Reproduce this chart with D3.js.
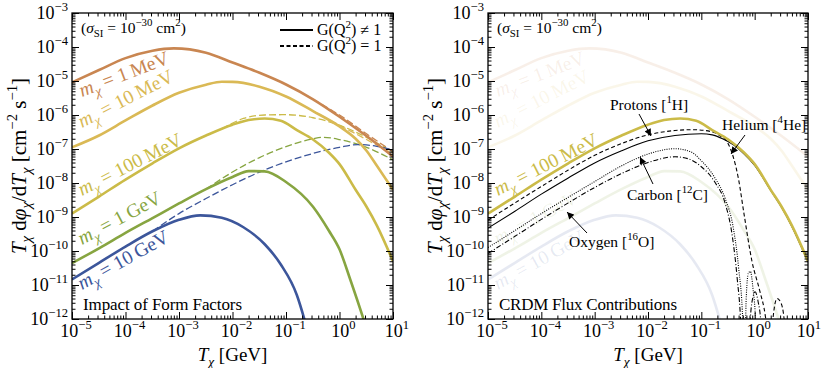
<!DOCTYPE html>
<html>
<head>
<meta charset="utf-8">
<script src="https://cdn.jsdelivr.net/npm/d3@7"></script>
<style>
body { margin: 0; background: #fff; }
text { font-family: "Liberation Serif", "DejaVu Serif", serif; white-space: pre; }
</style>
</head>
<body>
<svg id="chart" width="822" height="368"></svg>
<script>
// ---- values: [T_chi (GeV), T dphi/dT (cm^-2 s^-1)] ----
var massValues = ["1", "10", "100", "1", "10"];
var massUnits = ["MeV", "MeV", "MeV", "GeV", "GeV"];
var massColors = ["#c98651", "#dab955", "#cbbb48", "#87a541", "#3c569b"];

// with form factor, G(Q^2) != 1
var flux1MeV = [[1e-5,9.1e-6],[3.2e-5,2.1e-5],[1e-4,4.7e-5],[3.2e-4,7.8e-5],[8e-4,9.1e-5],[3.2e-3,6.8e-5],
  [1e-2,3.5e-5],[3.2e-2,1.74e-5],[0.1,7.9e-6],[0.32,2.9e-6],[1,8.9e-7],[3.2,2.4e-7],[10,6.0e-8]];
var flux10MeV = [[1e-5,1.12e-7],[3.2e-5,2.5e-7],[1e-4,6.9e-7],[3.2e-4,1.9e-6],[1e-3,4.5e-6],[3.2e-3,7.8e-6],
  [6.3e-3,9.5e-6],[1e-2,9.4e-6],[3.2e-2,6.8e-6],[0.1,3.5e-6],[0.32,1.3e-6],[1,4.6e-7],[2,2.0e-7],[3.2,8.9e-8],
  [5,3.2e-8],[10,6.3e-9]];
var flux100MeV = [[1e-5,1.26e-9],[3.2e-5,4.0e-9],[1e-4,1.26e-8],[3.2e-4,3.8e-8],[1e-3,1.05e-7],[3.2e-3,2.5e-7],
  [1e-2,5.2e-7],[2e-2,7.1e-7],[4e-2,7.9e-7],[8e-2,6.8e-7],[0.16,3.6e-7],[0.32,1.9e-7],[0.63,7.9e-8],[1,3.6e-8],
  [2,6.3e-9],[3.2,2.0e-9],[5,5.6e-10],[10,5.0e-11]];
var flux1GeV = [[1e-5,4.4e-11],[3.2e-5,1.2e-10],[1e-4,3.4e-10],[3.2e-4,9.3e-10],[1e-3,2.5e-9],[3.2e-3,6.6e-9],
  [1e-2,1.5e-8],[2e-2,2.24e-8],[4e-2,2.2e-8],[0.1,1.07e-8],[0.32,2.0e-9],[0.63,4.0e-10],[1,1.12e-10],
  [1.6,1.4e-11],[2.8,1.0e-12],[3.5,3.2e-13]];
var flux10GeV = [[1e-5,1.45e-11],[3.2e-5,4.5e-11],[1e-4,1.35e-10],[3.2e-4,3.8e-10],[1e-3,8.3e-10],[2.5e-3,1.12e-9],
  [6.3e-3,9.5e-10],[1.6e-2,5.0e-10],[4e-2,1.58e-10],[8e-2,4.0e-11],[0.16,5.0e-12],[0.22,1.0e-12],[0.28,2.5e-13]];

// without form factor, G(Q^2) = 1 (only where it leaves the solid curve)
var noFF1MeV = [[0.32,2.9e-6],[1,1.0e-6],[3.2,2.8e-7],[10,8.3e-8]];
var noFF10MeV = [[0.32,1.3e-6],[1,5.0e-7],[3.2,1.9e-7],[10,7.1e-8]];
var noFF100MeV = [[6.3e-3,3.9e-7],[1.6e-2,7.9e-7],[4e-2,1.0e-6],[0.1,1.02e-6],[0.32,8.3e-7],[1,5.0e-7],
  [3.2,2.2e-7],[10,7.9e-8]];
var noFF1GeV = [[3.2e-3,6.6e-9],[1e-2,2.1e-8],[3.2e-2,5.6e-8],[0.1,1.17e-7],[0.32,2.0e-7],[0.5,2.2e-7],
  [1,1.9e-7],[3.2,1.12e-7],[10,4.8e-8]];
var noFF10GeV = [[3.2e-4,3.8e-10],[1e-3,1.26e-9],[3.2e-3,3.5e-9],[1e-2,8.9e-9],[3.2e-2,2.1e-8],[0.1,4.2e-8],
  [0.32,7.4e-8],[1,1.12e-7],[2.2,1.35e-7],[5,1.2e-7],[10,9.3e-8]];

// CRDM contributions for m_chi = 100 MeV
var fluxProtons = [[1e-5,4.7e-10],[3.2e-5,1.48e-9],[1e-4,4.7e-9],[3.2e-4,1.41e-8],[1e-3,3.9e-8],[3.2e-3,8.9e-8],
  [1e-2,1.74e-7],[3.2e-2,2.5e-7],[0.1,2.8e-7],[0.16,2.6e-7],[0.25,2.0e-7],[0.4,1.32e-7],[0.63,7.2e-8],
  [1,3.3e-8],[2,6.0e-9],[3.2,1.9e-9],[5,5.2e-10],[10,4.7e-11]];
var fluxHelium = [[1e-5,8.1e-10],[3.2e-5,2.6e-9],[1e-4,7.9e-9],[3.2e-4,2.4e-8],[1e-3,6.5e-8],[3.2e-3,1.45e-7],
  [1e-2,2.6e-7],[3.2e-2,3.5e-7],[7e-2,3.7e-7],[0.16,3.2e-7],[0.22,2.5e-7],[0.32,1.41e-7],[0.4,5.6e-8],
  [0.5,1.26e-8],[0.63,1.26e-9],[0.89,5.0e-11],[1.26,6.3e-12],[1.58,1.26e-12],[1.78,2.5e-13],[1.9,1e-14],
  [2.14,6.3e-13],[2.63,4.0e-12],[3.16,2.8e-12],[3.7,5.0e-13],[4.0,1e-14]];
var fluxCarbon = [[1e-5,1.26e-10],[3.2e-5,4.0e-10],[1e-4,1.26e-9],[3.2e-4,3.8e-9],[1e-3,1.1e-8],[3.2e-3,3.2e-8],
  [1e-2,7.1e-8],[3.2e-2,1.02e-7],[6.3e-2,8.3e-8],[0.1,4.5e-8],[0.18,1.41e-8],[0.28,3.5e-9],[0.4,4.5e-10],
  [0.5,3.2e-11],[0.6,7.9e-13],[0.645,1e-14],[0.69,3.2e-12],[0.76,2.2e-11],[0.83,2.5e-11],[0.93,7.9e-12],
  [1.05,6.3e-13],[1.12,1e-14]];
var fluxOxygen = [[1e-5,8.5e-11],[3.2e-5,2.7e-10],[1e-4,8.5e-10],[3.2e-4,2.6e-9],[1e-3,7.4e-9],[3.2e-3,1.9e-8],
  [1e-2,4.0e-8],[3.2e-2,5.9e-8],[5.6e-2,5.2e-8],[0.1,3.0e-8],[0.18,1.05e-8],[0.28,2.5e-9],[0.38,2.8e-10],
  [0.47,1.58e-11],[0.55,6.3e-13],[0.6,1e-14],[0.76,1e-14],[0.83,1e-12],[0.93,4.5e-12],[1.02,6.3e-12],
  [1.15,3.5e-12],[1.32,6.3e-13],[1.41,1e-14]];

var xTickExps = [-5, -4, -3, -2, -1, 0, 1];
var yTickExps = [-12, -11, -10, -9, -8, -7, -6, -5, -4, -3];

var solidSeries = [flux1MeV, flux10MeV, flux100MeV, flux1GeV, flux10GeV];
var dashedSeries = [noFF1MeV, noFF10MeV, noFF100MeV, noFF1GeV, noFF10GeV];
// label anchor (offset from plot's left edge, baseline y) and slope angle
var labelPos = [[10, 97, 21], [10, 128, 27], [10, 196, 27], [10, 245, 28], [10, 290, 29]];

var svg = d3.select("#chart");
var plotTop = 13, plotBottom = 319;

// small helper: text with sub/superscripts built from tspans
function rich(sel, parts, fs) {
  var cur = 0;
  parts.forEach(function(p) {
    var off = p.s == "sub" ? fs * 0.25 : (p.s == "sup" ? -fs * 0.42 : 0);
    sel.append("tspan")
      .attr("dy", off - cur)
      .style("font-size", (p.s ? fs * 0.7 : fs) + "px")
      .style("font-style", p.i ? "italic" : "normal")
      .text(p.t);
    cur = off;
  });
  return sel;
}

function isMajor(v) {
  var l = Math.log10(v);
  return Math.abs(l - Math.round(l)) < 1e-6;
}

svg.append("defs").append("marker")
  .attr("id", "arrow")
  .attr("viewBox", "0 0 10 10")
  .attr("refX", 10).attr("refY", 5)
  .attr("markerWidth", 8).attr("markerHeight", 7)
  .attr("markerUnits", "userSpaceOnUse")
  .attr("orient", "auto")
  .append("path").attr("d", "M0,0 L10,5 L0,10 z").attr("fill", "#000");

function drawPanel(left, right, id) {
  var x = d3.scaleLog().domain([1e-5, 10]).range([left, right]);
  var y = d3.scaleLog().domain([1e-12, 1e-3]).range([plotBottom, plotTop]);
  var g = svg.append("g");

  g.append("clipPath").attr("id", "clip" + id)
    .append("rect").attr("x", left).attr("y", plotTop)
    .attr("width", right - left).attr("height", plotBottom - plotTop);

  var plot = g.append("g").attr("clip-path", "url(#clip" + id + ")");

  // ticks, inward on all four sides
  var xMajor = xTickExps.map(function(e) { return Math.pow(10, e); });
  var yMajor = yTickExps.map(function(e) { return Math.pow(10, e); });
  var xMinor = x.ticks().filter(function(v) { return !isMajor(v); });
  var yMinor = y.ticks().filter(function(v) { return !isMajor(v); });
  var sides = [
    [d3.axisBottom(x), "translate(0," + plotBottom + ")", xMajor, xMinor],
    [d3.axisTop(x), "translate(0," + plotTop + ")", xMajor, xMinor],
    [d3.axisLeft(y), "translate(" + left + ",0)", yMajor, yMinor],
    [d3.axisRight(y), "translate(" + right + ",0)", yMajor, yMinor]
  ];
  sides.forEach(function(s) {
    [[s[2], 7], [s[3], 3.5]].forEach(function(t) {
      g.append("g").attr("transform", s[1])
        .call(s[0].tickValues(t[0]).tickSize(-t[1]).tickFormat(""))
        .call(function(a) { a.select(".domain").remove(); a.selectAll("line").attr("stroke-width", 1); });
    });
  });

  g.append("rect").attr("x", left).attr("y", plotTop)
    .attr("width", right - left).attr("height", plotBottom - plotTop)
    .attr("fill", "none").attr("stroke", "#000").attr("stroke-width", 1.3);

  // tick labels
  xTickExps.forEach(function(e) {
    var t = rich(g.append("text").attr("x", x(Math.pow(10, e)) + 4).attr("y", 337).attr("text-anchor", "middle"),
      [{t: "10"}, {t: e < 0 ? "\u2212" + (-e) : "" + e, s: "sup"}], 18);
    // keep the last label inside the window
    var bb = t.node().getBBox();
    if (bb.x + bb.width > 821) t.attr("x", +t.attr("x") - (bb.x + bb.width - 821));
  });
  yTickExps.forEach(function(e) {
    rich(g.append("text").attr("x", left - 4).attr("y", y(Math.pow(10, e)) + 6).attr("text-anchor", "end"),
      [{t: "10"}, {t: "\u2212" + (-e), s: "sup"}], 18);
  });

  // axis titles
  rich(g.append("text").attr("x", (left + right) / 2).attr("y", 361).attr("text-anchor", "middle"),
    [{t: "T", i: 1}, {t: "\u03c7", s: "sub", i: 1}, {t: " [GeV]"}], 19);
  rich(g.append("text").attr("text-anchor", "middle")
      .attr("transform", "translate(" + (left - 46) + ",166) rotate(-90)"),
    [{t: "T", i: 1}, {t: "\u03c7", s: "sub", i: 1}, {t: " d"}, {t: "\u03c6", i: 1}, {t: "\u03c7", s: "sub", i: 1},
     {t: "/d"}, {t: "T", i: 1}, {t: "\u03c7", s: "sub", i: 1}, {t: " [cm"}, {t: "\u22122", s: "sup"},
     {t: " s"}, {t: "\u22121", s: "sup"}, {t: "]"}], 21);

  rich(g.append("text").attr("x", left + 9).attr("y", 33),
    [{t: "("}, {t: "\u03c3", i: 1}, {t: "SI", s: "sub"}, {t: " = 10"}, {t: "\u221230", s: "sup"},
     {t: " cm"}, {t: "2", s: "sup"}, {t: ")"}], 15.5);

  return {x: x, y: y, g: g, plot: plot, left: left, right: right};
}

function massLabel(p, i, opacity) {
  var lp = labelPos[i];
  rich(p.g.append("text")
      .attr("transform", "translate(" + (p.left + lp[0]) + "," + lp[1] + ") rotate(" + (-lp[2]) + ")")
      .attr("fill", massColors[i]).attr("fill-opacity", opacity),
    [{t: "m", i: 1}, {t: "\u03c7", s: "sub", i: 1}, {t: " = " + massValues[i] + "\u2009" + massUnits[i]}], 19.5);
}

// ---------------- left panel: impact of form factors ----------------
var L = drawPanel(72, 393, "L");
var lineL = d3.line().x(function(d) { return L.x(d[0]); }).y(function(d) { return L.y(d[1]); })
  .curve(d3.curveMonotoneX);

dashedSeries.forEach(function(s, i) {
  L.plot.append("path").attr("d", lineL(s)).attr("fill", "none")
    .attr("stroke", massColors[i]).attr("stroke-width", 1.3).attr("stroke-dasharray", "7,3");
});
solidSeries.forEach(function(s, i) {
  L.plot.append("path").attr("d", lineL(s)).attr("fill", "none")
    .attr("stroke", massColors[i]).attr("stroke-width", 2.6);
  massLabel(L, i, 1);
});

// legend
var legendRows = [["none", 30, "\u2260"], ["4,2.5", 46, "="]];
legendRows.forEach(function(r) {
  L.g.append("line").attr("x1", 280).attr("x2", 313).attr("y1", r[1]).attr("y2", r[1])
    .attr("stroke", "#000").attr("stroke-width", 1.8).attr("stroke-dasharray", r[0]);
  rich(L.g.append("text").attr("x", 317).attr("y", r[1] + 5),
    [{t: "G(Q"}, {t: "2", s: "sup"}, {t: ") " + r[2] + " 1"}], 16);
});

L.g.append("text").attr("x", 83).attr("y", 310).style("font-size", "17px")
  .attr("textLength", 159).attr("lengthAdjust", "spacing").text("Impact of Form Factors");

// ---------------- right panel: CRDM flux contributions ----------------
var R = drawPanel(488, 808, "R");
var lineR = d3.line().x(function(d) { return R.x(d[0]); }).y(function(d) { return R.y(d[1]); })
  .curve(d3.curveMonotoneX);

solidSeries.forEach(function(s, i) {
  if (i == 2) return;
  R.plot.append("path").attr("d", lineR(s)).attr("fill", "none")
    .attr("stroke", massColors[i]).attr("stroke-opacity", 0.13).attr("stroke-width", 2.6);
  massLabel(R, i, 0.13);
});

var components = [
  [fluxHelium, "4,2.5"],
  [fluxCarbon, "1,1.3"],
  [fluxOxygen, "5,2,1,2"],
  [fluxProtons, "none"]
];
components.forEach(function(c) {
  R.plot.append("path").attr("d", lineR(c[0])).attr("fill", "none")
    .attr("stroke", "#000").attr("stroke-width", 1.1).attr("stroke-dasharray", c[1]);
});
// total for 100 MeV drawn on top, hiding the proton line where they merge
R.plot.append("path").attr("d", lineR(flux100MeV)).attr("fill", "none")
  .attr("stroke", massColors[2]).attr("stroke-width", 2.6);
massLabel(R, 2, 1);

// annotations: [text parts, text x, baseline y, arrow from, arrow to]
var notes = [
  [[{t: "Protons ["}, {t: "1", s: "sup"}, {t: "H]"}], 610, 110, [639, 114], [651, 136]],
  [[{t: "Helium ["}, {t: "4", s: "sup"}, {t: "He]"}], 722, 130, [745, 135], [731, 154]],
  [[{t: "Carbon ["}, {t: "12", s: "sup"}, {t: "C]"}], 627, 200, [653, 184], [640, 157]],
  [[{t: "Oxygen ["}, {t: "16", s: "sup"}, {t: "O]"}], 569, 247, [587, 233], [567, 212]]
];
notes.forEach(function(n) {
  rich(R.g.append("text").attr("x", n[1]).attr("y", n[2]), n[0], 15.5);
  R.g.append("line").attr("x1", n[3][0]).attr("y1", n[3][1]).attr("x2", n[4][0]).attr("y2", n[4][1])
    .attr("stroke", "#000").attr("stroke-width", 1).attr("marker-end", "url(#arrow)");
});

R.g.append("text").attr("x", 499).attr("y", 310).style("font-size", "17px")
  .attr("textLength", 178).attr("lengthAdjust", "spacing").text("CRDM Flux Contributions");
</script>
</body>
</html>
